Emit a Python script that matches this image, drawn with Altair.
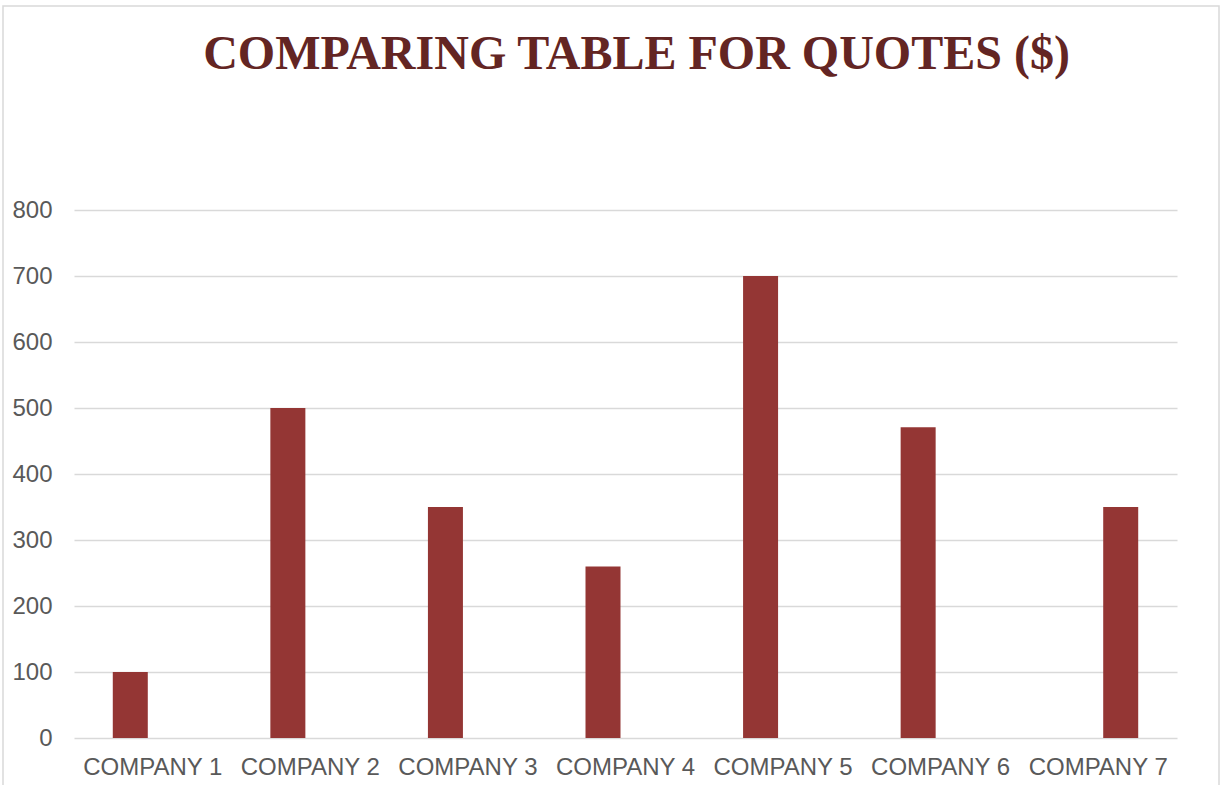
import altair as alt
import pandas as pd

companies = ["COMPANY 1", "COMPANY 2", "COMPANY 3", "COMPANY 4", "COMPANY 5", "COMPANY 6", "COMPANY 7"]
series_a = [100, 500, 350, 260, 700, 471, None]
series_b = [None, None, None, None, None, None, 350]
series_names = ["Quote A", "Quote B"]
y_ticks = [0, 100, 200, 300, 400, 500, 600, 700, 800]

rows = []
for name, vals in zip(series_names, [series_a, series_b]):
    for c, v in zip(companies, vals):
        if v is not None:
            rows.append({"company": c, "series": name, "value": v})
df = pd.DataFrame(rows)

W, H = 1103, 528
LEFT, TOP = 74, 210

bars = alt.Chart(df).mark_bar(color="#943634").encode(
    x=alt.X("company:N", sort=companies, title=None,
            scale=alt.Scale(paddingInner=0, paddingOuter=0),
            axis=alt.Axis(labelAngle=0, grid=False, domain=False, ticks=False,
                          labelPadding=17, labelFontSize=24, labelColor="#595959",
                          labelFont="Liberation Sans")),
    xOffset=alt.XOffset("series:N", scale=alt.Scale(domain=series_names, paddingInner=0.222, paddingOuter=0.862)),
    y=alt.Y("value:Q", title=None,
            scale=alt.Scale(domain=[0, 800], nice=False),
            axis=alt.Axis(values=y_ticks, grid=True, gridColor="#d9d9d9", gridWidth=1.3,
                          domain=False, ticks=False, labelPadding=22, labelFontSize=24,
                          labelColor="#595959", labelFont="Liberation Sans")),
)

border = alt.Chart(pd.DataFrame({"k": [0]})).mark_rect(
    fill=None, stroke="#d9d9d9", strokeWidth=1.5, clip=False
).encode(
    x=alt.value(3 - LEFT), x2=alt.value(1219 - LEFT),
    y=alt.value(6 - TOP), y2=alt.value(800 - TOP),
)

chart = alt.layer(border, bars).properties(
    width=W, height=H,
    autosize=alt.AutoSizeParams(type="none"),
    padding={"left": LEFT, "top": TOP, "right": 1221 - LEFT - W, "bottom": 785 - TOP - H},
    title=alt.TitleParams(
        "COMPARING TABLE FOR QUOTES ($)",
        font="Liberation Serif", fontSize=48, fontWeight="bold", color="#632523",
        anchor="middle", frame="group", offset=0, dx=11, dy=74,
    ),
    background="white",
).configure_view(stroke=None)

chart.save("out.html", embed_options={"renderer": "svg", "actions": False})
